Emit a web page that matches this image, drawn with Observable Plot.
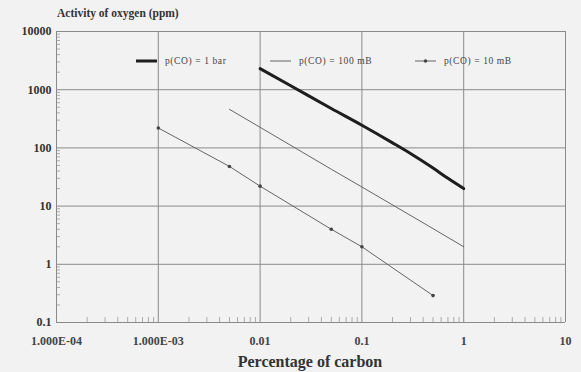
<!DOCTYPE html>
<html>
<head>
<meta charset="utf-8">
<script src="https://cdn.jsdelivr.net/npm/d3@7"></script>
<script src="https://cdn.jsdelivr.net/npm/@observablehq/plot@0.6"></script>
<style>
  html, body { margin: 0; padding: 0; background: #f2f2f2; }
  #wrap { position: relative; width: 581px; height: 372px; overflow: hidden; font-family: "Liberation Serif", "DejaVu Serif", serif; color: #333; }
  #chart { position: absolute; left: 0; top: 0; }
  .title { position: absolute; left: 57px; top: 7px; font-size: 11.5px; font-weight: bold; color: #333; }
  .xlabel { position: absolute; left: 0; width: 620px; text-align: center; top: 353px; font-size: 16px; font-weight: bold; color: #333; }
  .legend { position: absolute; top: 55px; font-size: 9.5px; letter-spacing: 0.6px; color: #444; display: flex; align-items: center; white-space: nowrap; }
  .legend svg { margin-right: 8px; }
</style>
</head>
<body>
<div id="wrap">
  <div id="chart"></div>
  <div class="title">Activity of oxygen (ppm)</div>
  <div class="xlabel">Percentage of carbon</div>
  <div id="legend"></div>
</div>
<script>
// ---- data ----
const xTickValues = [1e-4, 1e-3, 0.01, 0.1, 1, 10];
const xTickLabels = ["1.000E-04", "1.000E-03", "0.01", "0.1", "1", "10"];
const yTickValues = [0.1, 1, 10, 100, 1000, 10000];
const yTickLabels = ["0.1", "1", "10", "100", "1000", "10000"];

const seriesNames = ["p(CO) = 1 bar", "p(CO) = 100 mB", "p(CO) = 10 mB"];

const carbon1bar = [0.01, 0.02, 0.05, 0.1, 0.2, 0.3, 0.5, 0.7, 1];
const oxygen1bar = [2300, 1170, 475, 245, 122, 80, 45, 30, 20];

const carbon100mB = [0.005, 0.01, 0.05, 0.1, 0.5, 1];
const oxygen100mB = [460, 226, 43, 21.3, 4.1, 2.0];

const carbon10mB = [0.001, 0.005, 0.01, 0.05, 0.1, 0.5];
const oxygen10mB = [220, 48, 22, 4.0, 2.0, 0.29];

// ---- build tables ----
const zip = (xs, ys, s) => xs.map((x, i) => ({x, y: ys[i], s}));
const d1 = zip(carbon1bar, oxygen1bar, seriesNames[0]);
const d2 = zip(carbon100mB, oxygen100mB, seriesNames[1]);
const d3v = zip(carbon10mB, oxygen10mB, seriesNames[2]);

const minorX = [];
for (let e = -4; e < 1; e++) for (let m = 2; m <= 9; m++) minorX.push(m * Math.pow(10, e));
const minorY = [];
for (let e = -1; e < 4; e++) for (let m = 2; m <= 9; m++) minorY.push(m * Math.pow(10, e));

const xFmt = v => xTickLabels[xTickValues.findIndex(t => Math.abs(Math.log10(t) - Math.log10(v)) < 1e-6)] ?? "";
const yFmt = v => yTickLabels[yTickValues.findIndex(t => Math.abs(Math.log10(t) - Math.log10(v)) < 1e-6)] ?? "";

const chart = Plot.plot({
  width: 581,
  height: 372,
  marginLeft: 56,
  marginRight: 16,
  marginTop: 31,
  marginBottom: 50,
  style: { background: "transparent", fontFamily: "Liberation Serif, serif", fontSize: "12px", color: "#333" },
  x: { type: "log", domain: [1e-4, 10], label: null },
  y: { type: "log", domain: [0.1, 10000], label: null },
  marks: [
    Plot.gridX(xTickValues, { stroke: "#8a8a8a", strokeOpacity: 1, strokeWidth: 1 }),
    Plot.gridY(yTickValues, { stroke: "#8a8a8a", strokeOpacity: 1, strokeWidth: 1 }),
    Plot.axisX(minorX, { tickSize: -5, tickFormat: () => "", label: null, stroke: "#999", strokeWidth: 0.8 }),
    Plot.axisY(minorY, { tickSize: -4, tickFormat: () => "", label: null, stroke: "#999", strokeWidth: 0.8 }),
    Plot.axisX(xTickValues, { tickSize: 0, tickPadding: 14, tickFormat: xFmt, label: null, fontWeight: "bold", fill: "#444", fontSize: 12 }),
    Plot.axisY(yTickValues, { tickSize: 0, tickPadding: 5, tickFormat: yFmt, label: null, fontWeight: "bold", fill: "#333", fontSize: 12 }),
    Plot.ruleX([1e-4], { stroke: "#8a8a8a" }),
    Plot.ruleY([0.1], { stroke: "#8a8a8a" }),
    Plot.line(d1, { x: "x", y: "y", stroke: "#1e1e1e", strokeWidth: 3, curve: "monotone-x" }),
    Plot.line(d2, { x: "x", y: "y", stroke: "#555", strokeWidth: 0.9 }),
    Plot.line(d3v, { x: "x", y: "y", stroke: "#555", strokeWidth: 0.9 }),
    Plot.dot(d3v, { x: "x", y: "y", r: 1.8, fill: "#444", stroke: "none" })
  ]
});
document.getElementById("chart").appendChild(chart);

// ---- legend ----
const legendItems = [
  { name: seriesNames[0], left: 136, sw: 3, dot: false },
  { name: seriesNames[1], left: 270, sw: 0.9, dot: false },
  { name: seriesNames[2], left: 415, sw: 0.9, dot: true }
];
const lg = document.getElementById("legend");
legendItems.forEach(it => {
  const div = document.createElement("div");
  div.className = "legend";
  div.style.left = it.left + "px";
  div.innerHTML = `<svg width="21" height="12"><line x1="0" x2="21" y1="6" y2="6" stroke="${it.sw > 2 ? '#1e1e1e' : '#555'}" stroke-width="${it.sw}"/>${it.dot ? '<circle cx="10.5" cy="6" r="1.8" fill="#444"/>' : ''}</svg><span>${it.name}</span>`;
  lg.appendChild(div);
});
</script>
</body>
</html>
